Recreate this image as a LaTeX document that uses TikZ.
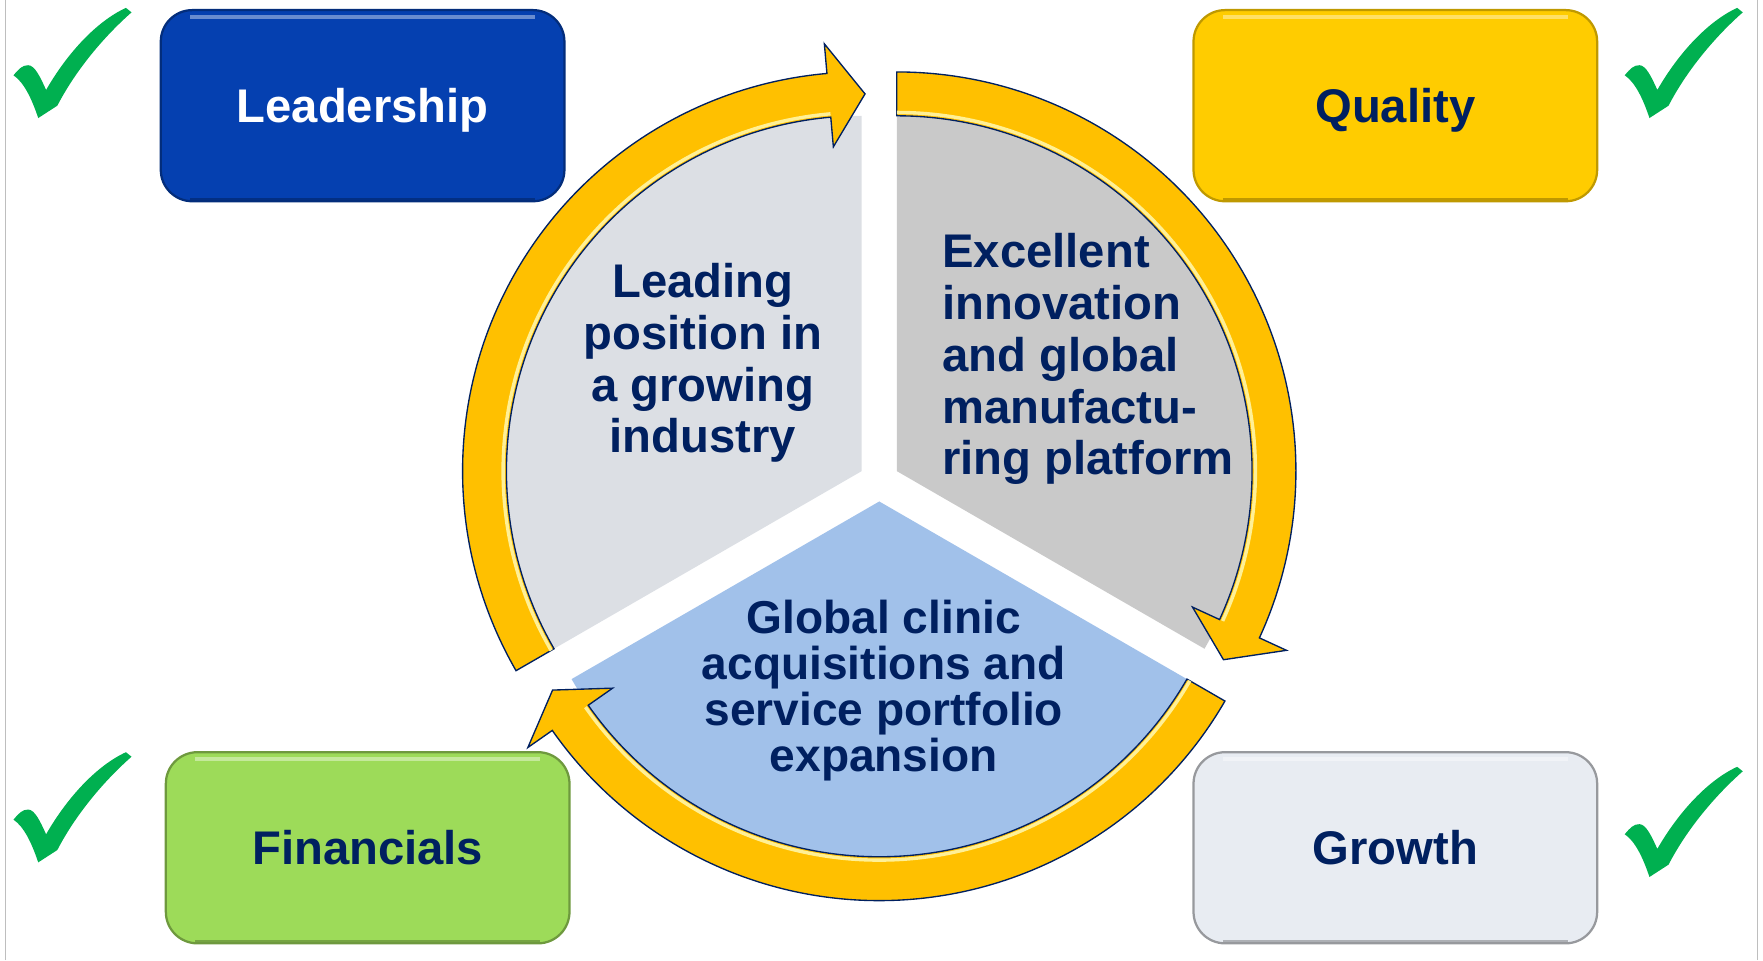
\documentclass[tikz,border=0pt]{standalone}
\usepackage{fontspec}
\setmainfont{Liberation Sans}
\usetikzlibrary{calc}

\definecolor{navy}{RGB}{0,32,96}
\definecolor{leadblue}{RGB}{5,64,176}
\definecolor{qualyellow}{RGB}{255,204,0}
\definecolor{fingreen}{RGB}{157,219,89}
\definecolor{growgray}{RGB}{232,236,242}
\definecolor{ringyellow}{RGB}{255,192,0}
\definecolor{ringlight}{RGB}{255,240,150}
\definecolor{leftfill}{RGB}{220,223,228}
\definecolor{rightfill}{RGB}{201,201,201}
\definecolor{bottomfill}{RGB}{161,193,234}
\definecolor{checkgreen}{RGB}{0,176,80}
\definecolor{framegray}{RGB}{190,190,190}

\begin{document}
\begin{tikzpicture}[x=1pt, y=1pt,
	box/.style={rounded corners=28pt, minimum width=359pt, minimum height=170pt,
		inner sep=0pt, line width=2pt, text height=30pt, text depth=0pt,
		font=\fontsize{42}{46}\selectfont\bfseries,
		path picture={
			\draw[white, opacity=0.4, line width=4pt]
				([xshift=26pt, yshift=-6pt]path picture bounding box.north west)
				-- ([xshift=-26pt, yshift=-6pt]path picture bounding box.north east);
			\draw[black, opacity=0.25, line width=6pt]
				([xshift=26pt]path picture bounding box.south west)
				-- ([xshift=-26pt]path picture bounding box.south east);
		}},
	sectortext/.style={inner sep=0pt, text=navy,
		font=\fontsize{42}{46}\selectfont\bfseries},
	ringpart/.style={fill=ringyellow, draw=navy, line width=1.2pt},
	ringshine/.style={draw=ringlight, line width=3pt},
]

% parameters %{{{1

	\def\rin{316pt}
	\def\rshine{319pt}
	\def\rout{355pt}
	\def\rmid{335.5pt}
	\def\hin{289.5pt}
	\def\hout{381.5pt}

% frame %{{{1

	\useasboundingbox (0,0) rectangle (1568,854);
	\draw[framegray, line width=1pt] (5,0) -- (5,854);
	\draw[framegray, line width=1pt] (1563,0) -- (1563,854);

% coordinates %{{{1

	\coordinate (O) at (782,426);
	\coordinate (A) at ($(O)+(150:18pt)$);
	\coordinate (B) at ($(O)+(30:18pt)$);
	\coordinate (C) at ($(O)+(270:18pt)$);

% sectors %{{{1

	\fill[leftfill] (A) -- ($(A)+(90:\rin)$)
		arc[start angle=90, end angle=210, radius=\rin] -- cycle;
	\fill[rightfill] (B) -- ($(B)+(90:\rin)$)
		arc[start angle=90, end angle=-30, radius=\rin] -- cycle;
	\fill[bottomfill] (C) -- ($(C)+(210:\rin)$)
		arc[start angle=210, end angle=330, radius=\rin] -- cycle;

% ring arrows %{{{1

	\foreach \c/\t/\p/\b in {A/210/89.5/95, B/90/-30/-24.7, C/330/210/215}
	{
		\filldraw[ringpart] ($(\c)+(\t:\rout)$)
			arc[start angle=\t, end angle=\b, radius=\rout]
			-- ($(\c)+(\b:\hout)$) -- ($(\c)+(\p:\rmid)$) -- ($(\c)+(\b:\hin)$)
			-- ($(\c)+(\b:\rin)$)
			arc[start angle=\b, end angle=\t, radius=\rin] -- cycle;
		\draw[ringshine] ($(\c)+(\t:\rshine)$)
			arc[start angle=\t, end angle=\b, radius=\rshine];
	}

% sector labels %{{{1

	\node[sectortext, align=center] (leading) at (625,531)
		{Leading\\position in\\a growing\\industry};
	\node[sectortext, align=left, anchor=west] (excellent) at (838,534.5)
		{Excellent\\innovation\\and global\\manufactu-\\ring platform};
	\node[sectortext, align=center, font=\fontsize{41}{41}\selectfont\bfseries] (clinic) at (786,240)
		{Global clinic\\acquisitions and\\service portfolio\\expansion};

% boxes %{{{1

	\node[box, fill=leadblue, draw=leadblue!70!black, text=white] (leadership) at (322.5,760) {Leadership};
	\node[box, fill=qualyellow, draw=qualyellow!75!black, text=navy] (quality) at (1241,760) {Quality};
	\node[box, fill=fingreen, draw=fingreen!70!black, text=navy] (financials) at (327,100) {Financials};
	\node[box, fill=growgray, draw=growgray!65!black, text=navy] (growth) at (1241,100) {Growth};

% check marks %{{{1

	\foreach \cx/\cy in {12/749, 1445/749, 12/87, 1445/74}
	{
		\fill[checkgreen, shift={(\cx,\cy)}] (0,38)
			.. controls (5,44) and (8,47) .. (13,47)
			.. controls (19,47) and (24,36) .. (29,25)
			.. controls (48,58) and (74,86) .. (100,98)
			-- (105,94)
			.. controls (80,72) and (55,42) .. (39,11)
			-- (22,0)
			.. controls (16,18) and (9,32) .. (0,38) -- cycle;
	}

% closing %{{{1

\end{tikzpicture}
\end{document}
